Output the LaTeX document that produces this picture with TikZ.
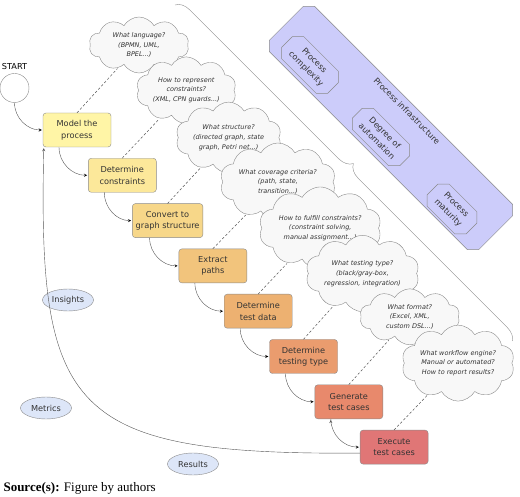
\documentclass[tikz,border=0pt]{standalone}
\usepackage{fontspec}
\setmainfont{DejaVu Sans}
\newfontfamily\captionfont{Liberation Serif}
\usetikzlibrary{positioning,shapes.symbols,shapes.misc,shapes.geometric,decorations.pathreplacing}
\definecolor{stepA}{HTML}{FFF5A6}
\definecolor{stepB}{HTML}{FCE89A}
\definecolor{stepC}{HTML}{F7D789}
\definecolor{stepD}{HTML}{F2C47C}
\definecolor{stepE}{HTML}{EDB171}
\definecolor{stepF}{HTML}{EA9C6E}
\definecolor{stepG}{HTML}{E8896C}
\definecolor{stepH}{HTML}{E07676}
\definecolor{boxline}{HTML}{8A8A8A}
\definecolor{arrowgray}{HTML}{555555}
\definecolor{textgray}{HTML}{333333}
\definecolor{cloudfill}{HTML}{F8F8F8}
\definecolor{outfill}{HTML}{DDE6F8}
\definecolor{infra}{HTML}{CCCCFA}

\begin{document}
\begin{tikzpicture}[x=1pt,y=-1pt,shorten >=1pt,>=stealth,node distance=45.3pt and 45.3pt,on grid,
    font=\fontsize{8.2}{11.5}\selectfont]
    \tikzset{stepbox/.style={draw=boxline,rectangle,rounded corners=3pt,minimum width=68pt,minimum height=34pt,align=center,text=textgray}}
    \tikzset{question/.style={draw=boxline,fill=cloudfill,cloud,cloud puffs=10,cloud puff arc=120,aspect=1.8,minimum width=100pt,minimum height=56pt,inner sep=0pt,align=center,text=textgray,font=\fontsize{6.5}{9.8}\selectfont\itshape}}
    \tikzset{outcome/.style={draw=boxline,fill=outfill,ellipse,minimum width=51pt,minimum height=22pt,inner sep=1pt,text=textgray}}
    \tikzset{factor/.style={draw=boxline,fill=infra,chamfered rectangle,chamfered rectangle xsep=4pt,chamfered rectangle ysep=4pt,rotate=-45,align=center,text=textgray,inner xsep=6pt,inner ysep=2pt}}
    \tikzset{flow/.style={->,draw=arrowgray}}
    \tikzset{hint/.style={dashed,dash pattern=on 2.5pt off 2pt,draw=arrowgray,line width=0.5pt}}
    \useasboundingbox (0,0) rectangle (520,497);
    % process infrastructure
    \node[factor,inner xsep=144pt,inner ysep=28pt] (infra) at (391,128) {};
    \node[rotate=-45,text=textgray] (infralabel) at (407,111) {Process infrastructure};
    \node[factor] (cplx) at (310,65) {Process\\complexity};
    \node[factor] (auto) at (381,137) {Degree of\\automation};
    \node[factor] (matur) at (452,209) {Process\\maturity};
    \coordinate (braceTop) at (175,5);
    \coordinate (braceEnd) at (512,342);
    \draw[boxline,decorate,decoration={brace,amplitude=14pt}] (braceTop) -- (braceEnd);
    % start
    \node[circle,draw=boxline,fill=white,minimum size=29pt,inner sep=0pt] (start) at (14.5,88) {};
    \node (startlabel) [above=21pt of start] {START};
    % steps
    \node[stepbox,fill=stepA] (m1) at (77,130) {Model the\\process};
    \node[stepbox,fill=stepB] (m2) [below right=of m1] {Determine\\constraints};
    \node[stepbox,fill=stepC] (m3) [below right=of m2] {Convert to\\graph structure};
    \node[stepbox,fill=stepD] (m4) [below right=of m3] {Extract\\paths};
    \node[stepbox,fill=stepE] (m5) [below right=of m4] {Determine\\test data};
    \node[stepbox,fill=stepF] (m6) [below right=of m5] {Determine\\testing type};
    \node[stepbox,fill=stepG] (m7) [below right=of m6] {Generate\\test cases};
    \node[stepbox,fill=stepH] (m8) [below right=of m7] {Execute\\test cases};
    % questions
    \node[question] (c1) [above right=85pt and 62pt of m1] {What language?\\(BPMN, UML,\\BPEL...)};
    \node[question] (c2) [above right=85pt and 64pt of m2] {How to represent\\constraints?\\(XML, CPN guards...)};
    \node[question] (c3) [above right=83pt and 61pt of m3] {What structure?\\(directed graph, state\\graph, Petri net...)};
    \node[question] (c4) [above right=84pt and 65pt of m4] {What coverage criteria?\\(path, state,\\transition...)};
    \node[question] (c5) [above right=83pt and 62pt of m5] {How to fulfill constraints?\\(constraint solving,\\manual assignment...)};
    \node[question] (c6) [above right=83pt and 59pt of m6] {What testing type?\\(black/gray-box,\\regression, integration)};
    \node[question] (c7) [above right=85pt and 61pt of m7] {What format?\\(Excel, XML,\\custom DSL...)};
    \node[question] (c8) [above right=84pt and 64pt of m8] {What workflow engine?\\Manual or automated?\\How to report results?};
    % outcomes
    \node[outcome] (insights) at (68,300) {Insights};
    \node[outcome] (metrics) at (46,408) {Metrics};
    \node[outcome] (results) at (193,464) {Results};
    \path[hint]
    (m1.north) edge (c1)
    (m2.north) edge (c2)
    (m3.north) edge (c3)
    (m4.north) edge (c4)
    (m5.north) edge (c5)
    (m6.north) edge (c6)
    (m7.north) edge (c7)
    (m8.north) edge (c8)
    ;
    \path[flow]
    (start) edge [out=270,in=180] (m1)
    ([xshift=-18pt]m1.south) edge [out=270,in=180] (m2)
    ([xshift=-18pt]m2.south) edge [out=270,in=180] (m3)
    ([xshift=-18pt]m3.south) edge [out=270,in=180] (m4)
    ([xshift=-18pt]m4.south) edge [out=270,in=180] (m5)
    ([xshift=-18pt]m5.south) edge [out=270,in=180] (m6)
    ([xshift=-18pt]m6.south) edge [out=270,in=180] (m7)
    ([xshift=-18pt]m7.south) edge [out=270,in=180] (m8)
    ;
    \draw[flow] ([yshift=-6pt]m8.west) .. controls +(-290,2) and +(-6,265) .. ([xshift=1pt]m1.south west);
    \node[anchor=west,font=\captionfont\fontsize{13}{15}\selectfont] (source) at (0,488) {\textbf{Source(s):} Figure by authors};
\end{tikzpicture}
\end{document}
